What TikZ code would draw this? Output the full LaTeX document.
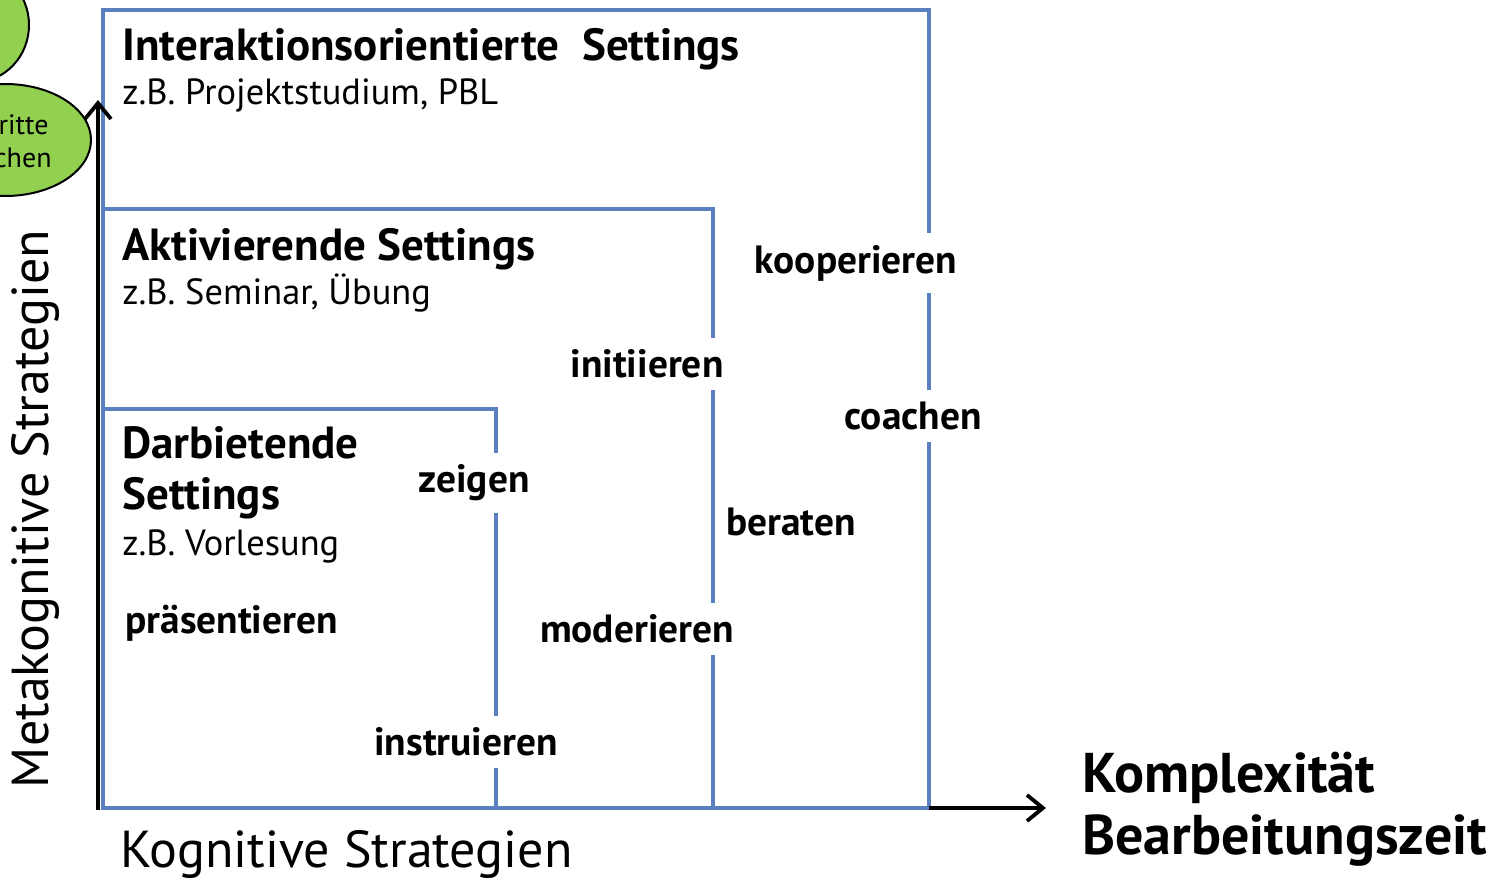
\documentclass[tikz,border=0pt]{standalone}
\usepackage{fontspec}
\setmainfont{PT Sans}
\usetikzlibrary{arrows.meta}
\definecolor{boxblue}{HTML}{5B80BF}
\definecolor{leafgreen}{HTML}{92D050}
\tikzset{
  frame/.style={draw=boxblue, line width=2.4pt},
  axis/.style={draw=black, line width=2pt, -{Straight Barb[length=8pt,width=13pt,line width=1.9pt]}},
  head/.style={anchor=base west, inner sep=0pt, font=\fontsize{22.5}{26}\selectfont\bfseries},
  sub/.style={anchor=base west, inner sep=0pt, font=\fontsize{18.2}{22}\selectfont},
  verb/.style={fill=white, inner xsep=2pt, inner ysep=6pt, font=\fontsize{19.7}{23}\selectfont\bfseries},
  axislabel/.style={inner sep=0pt, font=\fontsize{26}{30}\selectfont},
  bigbold/.style={anchor=west, inner sep=0pt, font=\fontsize{28}{32}\selectfont\bfseries},
  leaf/.style={draw=black, fill=leafgreen, line width=1pt},
  leaftext/.style={anchor=base east, inner sep=0pt, font=\fontsize{14}{17}\selectfont},
}
\begin{document}
\begin{tikzpicture}[x=0.5pt,y=-0.5pt]
\useasboundingbox (0,0) rectangle (1503,878);
\begin{scope}
\clip (0,0) rectangle (1503,878);
\draw[leaf] (-25,25) ellipse (54 and 57);
\draw[leaf] (5,140) ellipse (86 and 56);
\end{scope}
\node[leaftext] (t1) at (49,134) {ritte};
\node[leaftext] (t2) at (52,167) {chen};
% boxes
\draw[frame] (103,808) -- (103,10) -- (929,10) -- (929,808) -- cycle;
\draw[frame] (103,209) -- (713,209) -- (713,808);
\draw[frame] (103,409) -- (496,409) -- (496,808);
% axes
\coordinate (o) at (98,810);
\coordinate (ytop) at (98,100);
\coordinate (xs) at (929,808);
\coordinate (xe) at (1046,808);
\draw[axis] (o) -- (ytop);
\draw[axis] (xs) -- (xe);
% headings
\node[head] (h1) at (122,60) {Interaktionsorientierte\ \ Settings};
\node[sub] (s1) at (122,104) {z.B. Projektstudium, PBL};
\node[head] (h2) at (122,260) {Aktivierende Settings};
\node[sub] (s2) at (122,304) {z.B. Seminar, Übung};
\node[head] (h3) at (122,458) {Darbietende};
\node[head] (h3b) at (122,509) {Settings};
\node[sub] (s3) at (122,555) {z.B. Vorlesung};
% verbs
\node[verb, anchor=base west, fill=none, inner sep=0pt] (v1) at (125,633) {präsentieren};
\node[verb] (v2) at (474,483) {zeigen};
\node[verb] (v3) at (466,742) {instruieren};
\node[verb] (v4) at (637,629) {moderieren};
\node[verb] (v5) at (647,364) {initiieren};
\node[verb] (v6) at (791,522) {beraten};
\node[verb] (v7) at (856,263) {kooperieren};
\node[verb] (v8) at (913,416) {coachen};
% axis labels
\node[axislabel, rotate=90] (ya) at (35,509) {Metakognitive Strategien};
\node[axislabel, anchor=base west] (xa) at (120,867) {Kognitive Strategien};
\node[bigbold] (k1) at (1082,778) {Komplexität};
\node[bigbold] (k2) at (1082,841) {Bearbeitungszeit};
\end{tikzpicture}
\end{document}
